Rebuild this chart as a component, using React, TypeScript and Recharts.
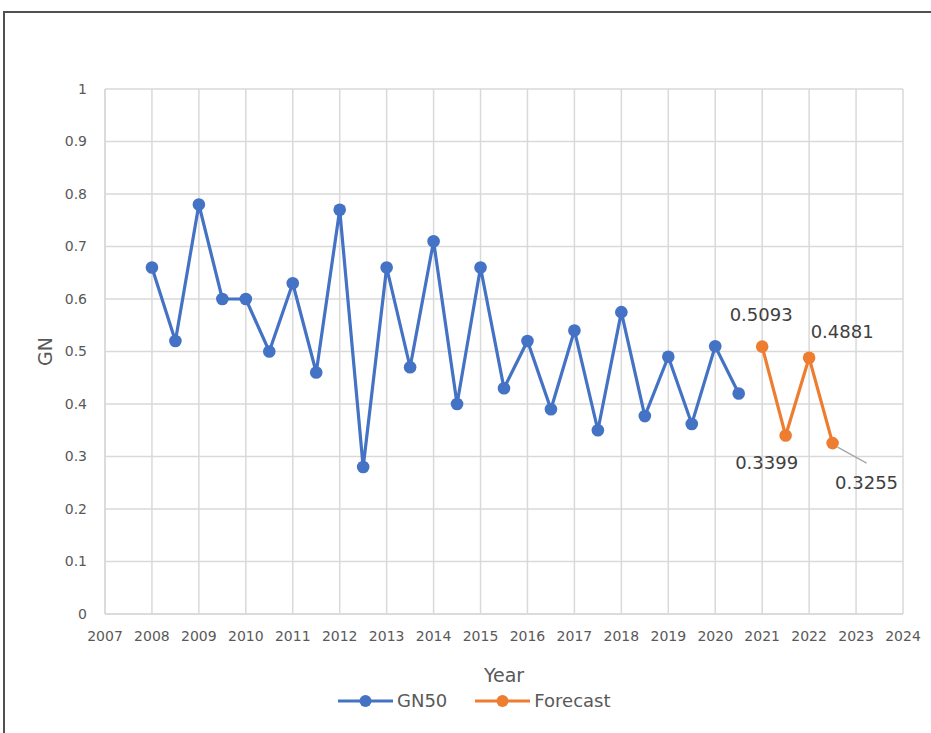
import {
  LineChart,
  Line,
  XAxis,
  YAxis,
  CartesianGrid,
  Legend,
  LabelList,
  Label,
} from 'recharts';

const gnYears = [
  2008, 2008.5, 2009, 2009.5, 2010, 2010.5, 2011, 2011.5, 2012, 2012.5, 2013, 2013.5, 2014,
  2014.5, 2015, 2015.5, 2016, 2016.5, 2017, 2017.5, 2018, 2018.5, 2019, 2019.5, 2020, 2020.5,
];
const gnValues = [
  0.66, 0.52, 0.78, 0.6, 0.6, 0.5, 0.63, 0.46, 0.77, 0.28, 0.66, 0.47, 0.71, 0.4, 0.66, 0.43,
  0.52, 0.39, 0.54, 0.35, 0.575, 0.377, 0.49, 0.362, 0.51, 0.42,
];
const forecastYears = [2021, 2021.5, 2022, 2022.5];
const forecastValues = [0.5093, 0.3399, 0.4881, 0.3255];

const yearTicks = [
  2007, 2008, 2009, 2010, 2011, 2012, 2013, 2014, 2015, 2016, 2017, 2018, 2019, 2020, 2021,
  2022, 2023, 2024,
];
const gnTicks = [0, 0.1, 0.2, 0.3, 0.4, 0.5, 0.6, 0.7, 0.8, 0.9, 1];
const seriesNames = ['GN50', 'Forecast'];

const gnData = gnYears.map((year, i) => ({ year, value: gnValues[i] }));
const forecastData = forecastYears.map((year, i) => ({ year, value: forecastValues[i] }));

const BLUE = '#4472C4';
const ORANGE = '#ED7D31';
const FONT = 'DejaVu Sans';

// where each forecast label sits relative to its point (text centre)
const labelOffsets = [
  { dx: -1, dy: -32 },
  { dx: -19, dy: 27 },
  { dx: 33, dy: -26 },
  { dx: 34, dy: 39 },
];

function ForecastLabel(props: any) {
  const { x, y, value, index } = props;
  const off = labelOffsets[index] || { dx: 0, dy: -20 };
  const tx = x + off.dx;
  const ty = y + off.dy;
  return (
    <g>
      {index === 3 && (
        <line x1={x + 5} y1={y + 4} x2={tx} y2={ty - 19} stroke="#a6a6a6" strokeWidth={1.2} />
      )}
      <text
        x={tx}
        y={ty}
        textAnchor="middle"
        dominantBaseline="central"
        fill="#404040"
        fontSize={18}
        fontFamily={FONT}
      >
        {value}
      </text>
    </g>
  );
}

function LegendContent(props: any) {
  const items = [...(props.payload || [])].sort(
    (a: any, b: any) => seriesNames.indexOf(a.value) - seriesNames.indexOf(b.value)
  );
  return (
    <div style={{ display: 'flex', alignItems: 'center', fontFamily: FONT, fontSize: 18, color: '#595959' }}>
      {items.map((entry: any) => (
        <div key={entry.value} style={{ display: 'flex', alignItems: 'center', marginRight: 28 }}>
          <svg width={55} height={14} style={{ marginRight: 4 }}>
            <line x1={0} y1={7} x2={55} y2={7} stroke={entry.color} strokeWidth={3} />
            <circle cx={27.5} cy={7} r={6} fill={entry.color} />
          </svg>
          <span>{entry.value}</span>
        </div>
      ))}
    </div>
  );
}

export default function App() {
  return (
    <div
      style={{
        position: 'fixed',
        left: 0,
        top: 0,
        width: 931,
        height: 733,
        overflow: 'hidden',
        background: '#fff',
      }}
    >
      <div
        style={{
          position: 'absolute',
          left: 3,
          top: 11,
          width: 960,
          height: 760,
          borderLeft: '2px solid #505050',
          borderTop: '2px solid #505050',
        }}
      />
      <div style={{ position: 'absolute', left: 0, top: 0 }}>
        <LineChart width={931} height={733} margin={{ top: 89, right: 28, left: 0, bottom: 0 }}>
          <CartesianGrid stroke="#d9d9d9" strokeWidth={1.5} />
          <XAxis
            dataKey="year"
            type="number"
            domain={[2007, 2024]}
            ticks={yearTicks}
            allowDuplicatedCategory={false}
            height={119}
            tickSize={0}
            tickMargin={17}
            axisLine={{ stroke: '#d9d9d9', strokeWidth: 1.5 }}
            tick={{ fill: '#595959', fontSize: 14, fontFamily: FONT }}
            interval={0}
          >
            <Label
              value="Year"
              position="insideBottom"
              offset={51}
              fill="#595959"
              fontSize={19}
              fontFamily={FONT}
            />
          </XAxis>
          <YAxis
            type="number"
            domain={[0, 1]}
            ticks={gnTicks}
            width={105}
            tickSize={0}
            tickMargin={18}
            axisLine={{ stroke: '#d9d9d9', strokeWidth: 1.5 }}
            tick={{ fill: '#595959', fontSize: 14, fontFamily: FONT }}
            interval={0}
          >
            <Label
              content={(p: any) => {
                const vb = p.viewBox || { x: 0, y: 0, height: 0 };
                const cx = vb.x + 45;
                const cy = vb.y + vb.height / 2;
                return (
                  <text
                    x={cx}
                    y={cy}
                    transform={`rotate(-90 ${cx} ${cy})`}
                    textAnchor="middle"
                    dominantBaseline="central"
                    fill="#595959"
                    fontSize={19}
                    fontFamily={FONT}
                  >
                    GN
                  </text>
                );
              }}
            />
          </YAxis>
          <Legend
            layout="horizontal"
            verticalAlign="middle"
            align="center"
            wrapperStyle={{ top: 690, left: 338, width: 320 }}
            content={<LegendContent />}
          />
          <Line
            data={gnData}
            dataKey="value"
            name="GN50"
            stroke={BLUE}
            strokeWidth={3.2}
            dot={{ r: 6.3, fill: BLUE, stroke: BLUE, strokeWidth: 0 }}
            isAnimationActive={false}
          />
          <Line
            data={forecastData}
            dataKey="value"
            name="Forecast"
            stroke={ORANGE}
            strokeWidth={3.2}
            dot={{ r: 6.3, fill: ORANGE, stroke: ORANGE, strokeWidth: 0 }}
            isAnimationActive={false}
          >
            <LabelList dataKey="value" content={<ForecastLabel />} />
          </Line>
        </LineChart>
      </div>
    </div>
  );
}
